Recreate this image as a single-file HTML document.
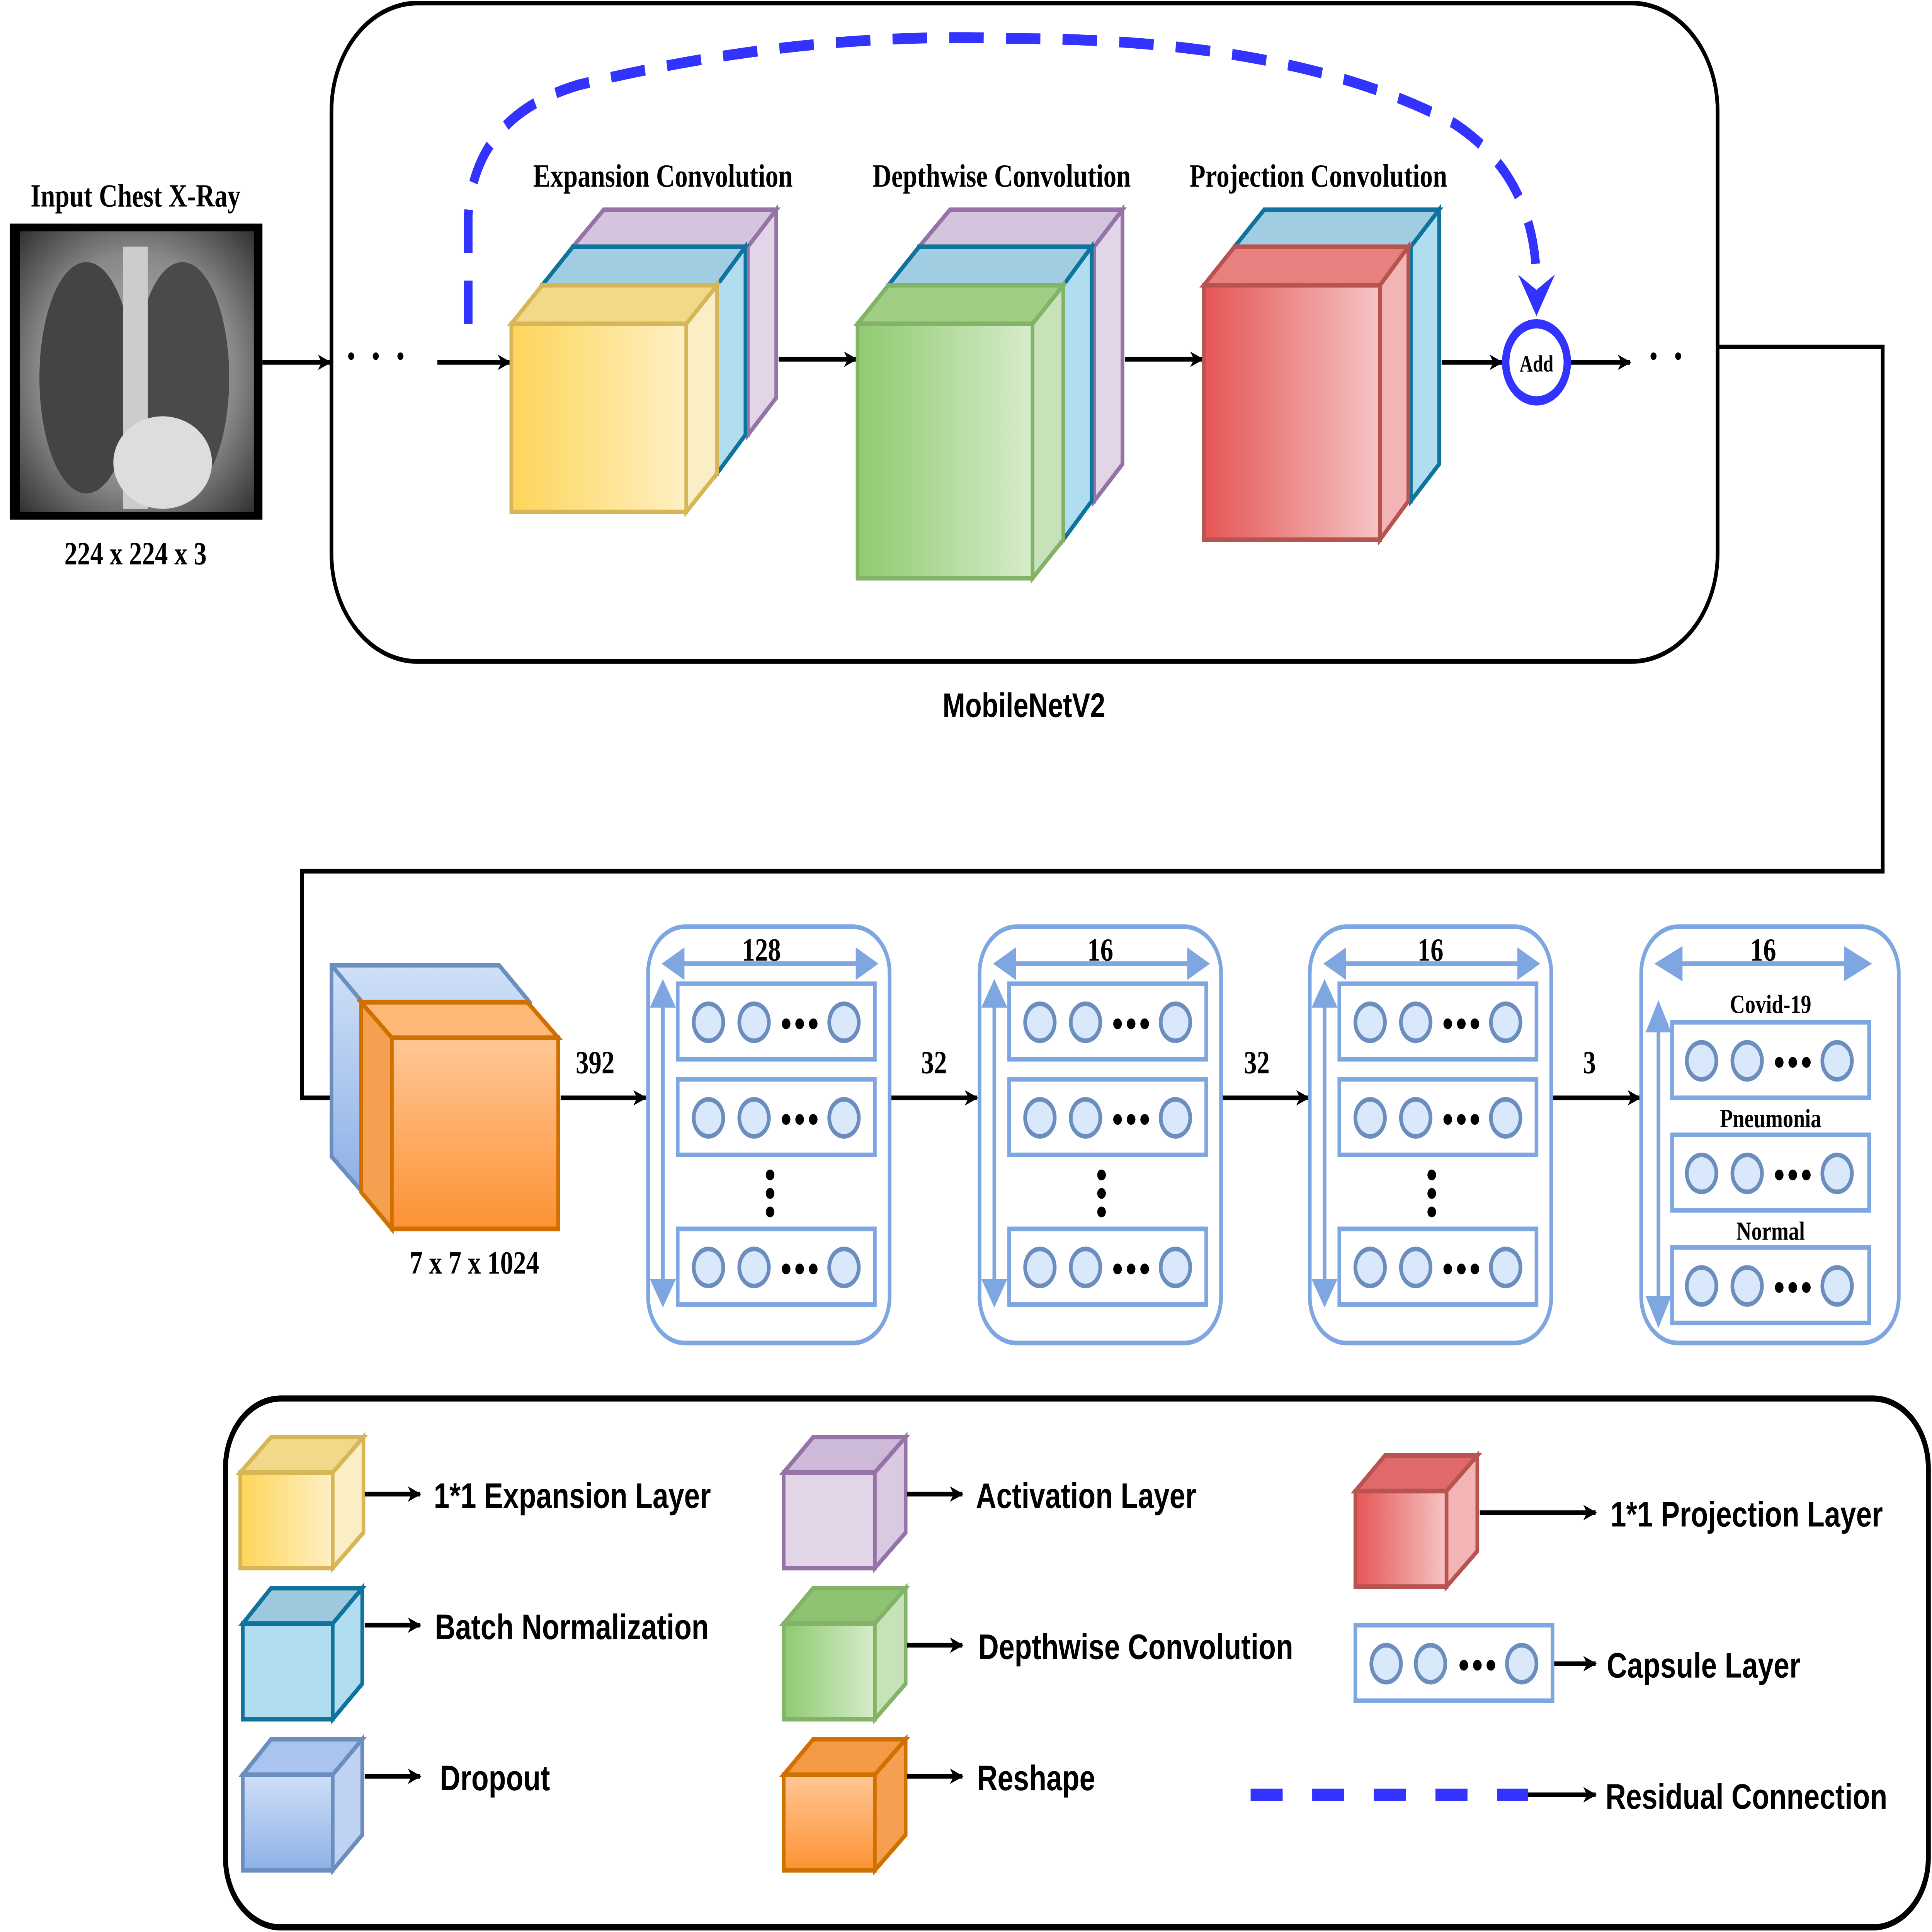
<!DOCTYPE html>
<html><head><meta charset="utf-8">
<style>
html,body{margin:0;padding:0;background:#fff;overflow:hidden;width:100vw;height:100vh}
svg{display:block;width:100vw;height:100vh;position:absolute;left:0;top:0}
.s{font-family:"Liberation Serif",serif;font-weight:bold}
.a{font-family:"Liberation Sans",sans-serif;font-weight:bold}
</style></head><body>
<svg xmlns="http://www.w3.org/2000/svg" viewBox="0 0 1568 1253" preserveAspectRatio="none">
<defs>
<marker id="ar" markerWidth="12" markerHeight="10" refX="10" refY="5" orient="auto" markerUnits="userSpaceOnUse"><path d="M0,0 L11,5 L0,10 L3,5 Z" fill="#000"/></marker>
<linearGradient id="gy" x1="0" x2="1"><stop offset="0" stop-color="#fed55a"/><stop offset="1" stop-color="#fff0c4"/></linearGradient>
<linearGradient id="gg" x1="0" x2="1"><stop offset="0" stop-color="#8fca70"/><stop offset="1" stop-color="#d6ecca"/></linearGradient>
<linearGradient id="gr" x1="0" x2="1"><stop offset="0" stop-color="#e55555"/><stop offset="1" stop-color="#f6c4c4"/></linearGradient>
<linearGradient id="go" x1="0" x2="0" y1="1" y2="0"><stop offset="0" stop-color="#fd9233"/><stop offset="1" stop-color="#ffc796"/></linearGradient>
<linearGradient id="gb" x1="0" x2="0" y1="1" y2="0"><stop offset="0" stop-color="#8eb0e6"/><stop offset="1" stop-color="#cfe0f8"/></linearGradient>
<radialGradient id="xr" cx="0.5" cy="0.5" r="0.7"><stop offset="0" stop-color="#bbb"/><stop offset="0.6" stop-color="#888"/><stop offset="1" stop-color="#333"/></radialGradient>
</defs>

<text x="110" y="134" class="s" font-size="21" text-anchor="middle">Input Chest X-Ray</text>
<rect x="8" y="145" width="205" height="192" fill="#000"/>
<rect x="16" y="150" width="190" height="182" fill="url(#xr)"/>
<ellipse cx="70" cy="245" rx="38" ry="75" fill="#444"/>
<ellipse cx="148" cy="245" rx="38" ry="75" fill="#4a4a4a"/>
<rect x="100" y="160" width="20" height="170" fill="#ccc"/>
<ellipse cx="132" cy="300" rx="40" ry="30" fill="#ddd"/>
<text x="110" y="366" class="s" font-size="21" text-anchor="middle">224 x 224 x 3</text>
<line x1="213" y1="235" x2="268" y2="235" stroke="#000" stroke-width="3" marker-end="url(#ar)"/>

<rect x="269" y="2" width="1125" height="427" rx="70" fill="none" stroke="#000" stroke-width="3"/>
<text x="831" y="465" class="a" font-size="22" text-anchor="middle">MobileNetV2</text>
<text x="310" y="241" class="s" font-size="30" text-anchor="middle" letter-spacing="10">···</text>
<line x1="355" y1="235" x2="414" y2="235" stroke="#000" stroke-width="3" marker-end="url(#ar)"/>

<path d="M380,210 L380,140 Q385,75 470,55 Q650,20 820,25 Q1050,25 1180,80 Q1247,115 1247,185" fill="none" stroke="#3333ff" stroke-width="7" stroke-dasharray="28,18"/>
<path d="M1232,178 L1247,205 L1262,178 L1247,188 Z" fill="#3333ff"/>

<text x="538" y="121" class="s" font-size="21" text-anchor="middle">Expansion Convolution</text>
<text x="813" y="121" class="s" font-size="21" text-anchor="middle">Depthwise Convolution</text>
<text x="1070" y="121" class="s" font-size="21" text-anchor="middle">Projection Convolution</text>

<g stroke-width="3">
<g stroke="#9673a6"><rect x="465" y="160" width="142" height="122" fill="#e1d5e7"/><polygon points="465,160 490,136 630,136 607,160" fill="#d5c4de"/><polygon points="607,160 630,136 630,258 607,282" fill="#e1d5e7"/></g>
<g stroke="#10739e"><rect x="440" y="185" width="142" height="122" fill="#b1ddf0"/><polygon points="440,185 465,160 605,160 582,185" fill="#a0cde2"/><polygon points="582,185 605,160 605,282 582,307" fill="#b1ddf0"/></g>
<g stroke="#d6b656"><rect x="415" y="210" width="142" height="122" fill="url(#gy)"/><polygon points="415,210 440,185 582,185 557,210" fill="#f2d98a"/><polygon points="557,210 582,185 582,307 557,332" fill="#fbeec4"/></g>
</g>
<line x1="632" y1="233" x2="695" y2="233" stroke="#000" stroke-width="3" marker-end="url(#ar)"/>

<g stroke-width="3">
<g stroke="#9673a6"><rect x="746" y="160" width="142" height="165" fill="#e1d5e7"/><polygon points="746,160 771,136 911,136 888,160" fill="#d5c4de"/><polygon points="888,160 911,136 911,301 888,325" fill="#e1d5e7"/></g>
<g stroke="#10739e"><rect x="721" y="185" width="142" height="165" fill="#b1ddf0"/><polygon points="721,185 746,160 886,160 863,185" fill="#a0cde2"/><polygon points="863,185 886,160 886,325 863,350" fill="#b1ddf0"/></g>
<g stroke="#82b366"><rect x="696" y="210" width="142" height="165" fill="url(#gg)"/><polygon points="696,210 721,185 863,185 838,210" fill="#9fcf85"/><polygon points="838,210 863,185 863,350 838,375" fill="#c7e2b8"/></g>
</g>
<line x1="913" y1="233" x2="976" y2="233" stroke="#000" stroke-width="3" marker-end="url(#ar)"/>

<g stroke-width="3">
<g stroke="#10739e"><rect x="1002" y="160" width="143" height="165" fill="#b1ddf0"/><polygon points="1002,160 1026,136 1168,136 1145,160" fill="#a0cde2"/><polygon points="1145,160 1168,136 1168,301 1145,325" fill="#b1ddf0"/></g>
<g stroke="#b85450"><rect x="977" y="185" width="143" height="165" fill="url(#gr)"/><polygon points="977,185 1002,160 1143,160 1120,185" fill="#e88080"/><polygon points="1120,185 1143,160 1143,325 1120,350" fill="#f2b4b4"/></g>
</g>
<line x1="1170" y1="235" x2="1219" y2="235" stroke="#000" stroke-width="3" marker-end="url(#ar)"/>
<circle cx="1247" cy="235" r="25" fill="#fff" stroke="#3333ff" stroke-width="6"/>
<text x="1247" y="241" class="s" font-size="15" text-anchor="middle">Add</text>
<line x1="1275" y1="235" x2="1323" y2="235" stroke="#000" stroke-width="3" marker-end="url(#ar)"/>
<text x="1357" y="241" class="s" font-size="30" text-anchor="middle" letter-spacing="10">··</text>

<polyline points="1394,225 1528,225 1528,565 245,565 245,712 292,712" fill="none" stroke="#000" stroke-width="3" marker-end="url(#ar)"/>

<g stroke-width="3">
<g stroke="#6c8ebf"><polygon points="269,626 405,626 430,650 430,773 294,773 269,750" fill="url(#gb)"/><line x1="269" y1="626" x2="294" y2="650"/><polyline points="294,650 430,650" fill="none"/></g>
<g stroke="#d07000"><polygon points="293,650 428,650 453,673 318,673" fill="#ffb878"/><polygon points="293,650 318,673 318,797 293,773" fill="#f5a050"/><rect x="318" y="673" width="135" height="124" fill="url(#go)"/></g>
</g>
<text x="385" y="826" class="s" font-size="21" text-anchor="middle">7 x 7 x 1024</text>

<g class="s" font-size="21" text-anchor="middle">
<line x1="455" y1="712" x2="524" y2="712" stroke="#000" stroke-width="3" marker-end="url(#ar)"/><text x="483" y="696">392</text>
<line x1="722" y1="712" x2="793" y2="712" stroke="#000" stroke-width="3" marker-end="url(#ar)"/><text x="758" y="696">32</text>
<line x1="990" y1="712" x2="1062" y2="712" stroke="#000" stroke-width="3" marker-end="url(#ar)"/><text x="1020" y="696">32</text>
<line x1="1259" y1="712" x2="1331" y2="712" stroke="#000" stroke-width="3" marker-end="url(#ar)"/><text x="1290" y="696">3</text>
</g>

<g fill="none" stroke="#7ea6e0" stroke-width="3">
<rect x="526" y="601" width="196" height="270" rx="30"/>
<rect x="795" y="601" width="196" height="270" rx="30"/>
<rect x="1063" y="601" width="196" height="270" rx="30"/>
<rect x="1332" y="601" width="209" height="270" rx="30"/>
</g>
<g id="p1">
<g stroke="#7ea6e0" stroke-width="3">
<line x1="545" y1="625" x2="705" y2="625"/><path d="M540,625 l14,-8 v16 z M710,625 l-14,-8 v16 z" fill="#7ea6e0"/>
<line x1="538" y1="643" x2="538" y2="840"/><path d="M538,638 l-8,14 h16 z M538,845 l-8,-14 h16 z" fill="#7ea6e0"/>
</g>
<g fill="none" stroke="#7ea6e0" stroke-width="3">
<rect x="550" y="638" width="160" height="49"/><rect x="550" y="700" width="160" height="49"/><rect x="550" y="797" width="160" height="49"/>
</g>
<g fill="#dae8fc" stroke="#6c8ebf" stroke-width="3">
<circle cx="575" cy="663" r="12"/><circle cx="612" cy="663" r="12"/><circle cx="685" cy="663" r="12"/>
<circle cx="575" cy="725" r="12"/><circle cx="612" cy="725" r="12"/><circle cx="685" cy="725" r="12"/>
<circle cx="575" cy="822" r="12"/><circle cx="612" cy="822" r="12"/><circle cx="685" cy="822" r="12"/>
</g>
<g fill="#000"><circle cx="638" cy="664" r="3.5"/><circle cx="649" cy="664" r="3.5"/><circle cx="660" cy="664" r="3.5"/>
<circle cx="638" cy="726" r="3.5"/><circle cx="649" cy="726" r="3.5"/><circle cx="660" cy="726" r="3.5"/>
<circle cx="638" cy="823" r="3.5"/><circle cx="649" cy="823" r="3.5"/><circle cx="660" cy="823" r="3.5"/>
<circle cx="625" cy="762" r="3.5"/><circle cx="625" cy="774" r="3.5"/><circle cx="625" cy="786" r="3.5"/></g>
</g>
<use href="#p1" x="269"/>
<use href="#p1" x="537"/>
<text x="618" y="623" class="s" font-size="21" text-anchor="middle">128</text>
<text x="893" y="623" class="s" font-size="21" text-anchor="middle">16</text>
<text x="1161" y="623" class="s" font-size="21" text-anchor="middle">16</text>

<g stroke="#7ea6e0" stroke-width="3">
<line x1="1355" y1="625" x2="1508" y2="625"/><path d="M1346,625 l18,-9 v18 z M1516,625 l-18,-9 v18 z" fill="#7ea6e0"/>
<line x1="1346" y1="660" x2="1346" y2="850"/><path d="M1346,652 l-8,16 h16 z M1346,858 l-8,-16 h16 z" fill="#7ea6e0"/>
</g>
<text x="1431" y="623" class="s" font-size="21" text-anchor="middle">16</text>
<g id="r4">
<rect x="1357" y="663" width="160" height="49" fill="none" stroke="#7ea6e0" stroke-width="3"/>
<g fill="#dae8fc" stroke="#6c8ebf" stroke-width="3"><circle cx="1381" cy="688" r="12"/><circle cx="1418" cy="688" r="12"/><circle cx="1491" cy="688" r="12"/></g>
<g fill="#000"><circle cx="1444" cy="689" r="3.5"/><circle cx="1455" cy="689" r="3.5"/><circle cx="1466" cy="689" r="3.5"/></g>
</g>
<use href="#r4" y="73"/>
<use href="#r4" y="146"/>
<g class="s" font-size="17" text-anchor="middle"><text x="1437" y="657">Covid-19</text><text x="1437" y="731">Pneumonia</text><text x="1437" y="804">Normal</text></g>

<rect x="183" y="907" width="1382" height="343" rx="45" fill="none" stroke="#000" stroke-width="4"/>
<g stroke-width="3">
<g stroke="#d6b656"><rect x="195" y="955" width="75" height="62" fill="url(#gy)"/><polygon points="195,955 220,932 295,932 270,955" fill="#f2d98a"/><polygon points="270,955 295,932 295,994 270,1017" fill="#fbeec4"/></g>
<g stroke="#10739e"><rect x="197" y="1053" width="73" height="62" fill="#b1ddf0"/><polygon points="197,1053 220,1030 294,1030 270,1053" fill="#9dc9de"/><polygon points="270,1053 294,1030 294,1092 270,1115" fill="#b1ddf0"/></g>
<g stroke="#6c8ebf"><rect x="197" y="1151" width="73" height="62" fill="url(#gb)"/><polygon points="197,1151 220,1128 294,1128 270,1151" fill="#a9c4ee"/><polygon points="270,1151 294,1128 294,1190 270,1213" fill="#bed3f3"/></g>
<g stroke="#9673a6"><rect x="636" y="955" width="74" height="62" fill="#e1d5e7"/><polygon points="636,955 660,932 735,932 710,955" fill="#cdb9d8"/><polygon points="710,955 735,932 735,994 710,1017" fill="#d9c9e1"/></g>
<g stroke="#82b366"><rect x="636" y="1053" width="74" height="62" fill="url(#gg)"/><polygon points="636,1053 660,1030 735,1030 710,1053" fill="#8fc272"/><polygon points="710,1053 735,1030 735,1092 710,1115" fill="#c7e2b8"/></g>
<g stroke="#d07000"><rect x="636" y="1151" width="74" height="62" fill="url(#go)"/><polygon points="636,1151 660,1128 735,1128 710,1151" fill="#f59a44"/><polygon points="710,1151 735,1128 735,1190 710,1213" fill="#f5a050"/></g>
<g stroke="#b85450"><rect x="1100" y="967" width="74" height="62" fill="url(#gr)"/><polygon points="1100,967 1124,944 1199,944 1174,967" fill="#e06a6a"/><polygon points="1174,967 1199,944 1199,1006 1174,1029" fill="#f2b4b4"/></g>
</g>
<g stroke="#000" stroke-width="3">
<line x1="296" y1="969" x2="341" y2="969" marker-end="url(#ar)"/>
<line x1="296" y1="1054" x2="341" y2="1054" marker-end="url(#ar)"/>
<line x1="296" y1="1152" x2="341" y2="1152" marker-end="url(#ar)"/>
<line x1="736" y1="969" x2="781" y2="969" marker-end="url(#ar)"/>
<line x1="736" y1="1067" x2="781" y2="1067" marker-end="url(#ar)"/>
<line x1="736" y1="1152" x2="781" y2="1152" marker-end="url(#ar)"/>
<line x1="1201" y1="981" x2="1295" y2="981" marker-end="url(#ar)"/>
<line x1="1261" y1="1079" x2="1295" y2="1079" marker-end="url(#ar)"/>
<line x1="1240" y1="1164" x2="1295" y2="1164" marker-end="url(#ar)"/>
</g>
<rect x="1100" y="1054" width="160" height="49" fill="none" stroke="#7ea6e0" stroke-width="3"/>
<g fill="#dae8fc" stroke="#6c8ebf" stroke-width="3"><circle cx="1125" cy="1079" r="12"/><circle cx="1161" cy="1079" r="12"/><circle cx="1235" cy="1079" r="12"/></g>
<g fill="#000"><circle cx="1188" cy="1080" r="3.5"/><circle cx="1199" cy="1080" r="3.5"/><circle cx="1210" cy="1080" r="3.5"/></g>
<line x1="1015" y1="1164" x2="1240" y2="1164" stroke="#3333ff" stroke-width="8" stroke-dasharray="26,24"/>
<g class="a" font-size="23">
<text x="352" y="978">1*1 Expansion Layer</text>
<text x="353" y="1063">Batch Normalization</text>
<text x="357" y="1161">Dropout</text>
<text x="792" y="978">Activation Layer</text>
<text x="794" y="1076">Depthwise Convolution</text>
<text x="793" y="1161">Reshape</text>
<text x="1307" y="990">1*1 Projection Layer</text>
<text x="1304" y="1088">Capsule Layer</text>
<text x="1303" y="1173">Residual Connection</text>
</g>
</svg>
</body></html>
